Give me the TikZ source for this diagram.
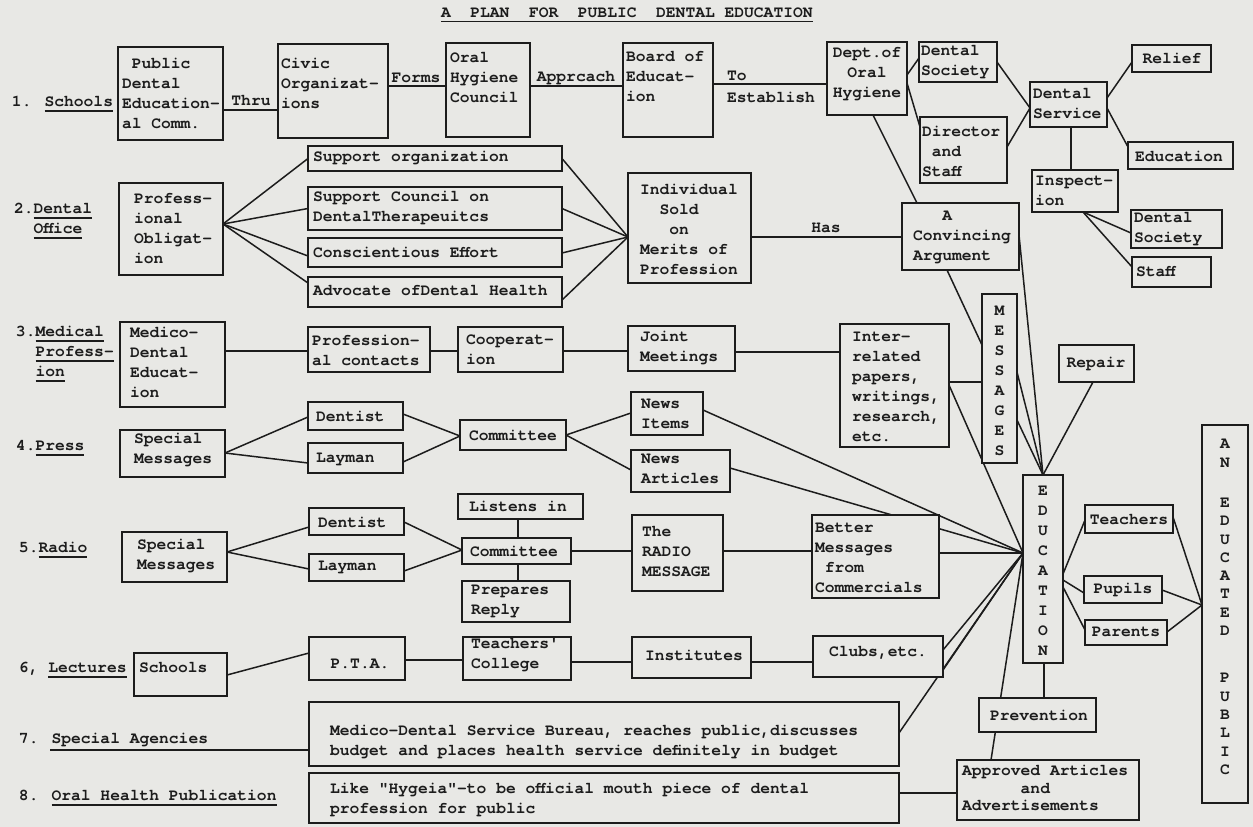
\documentclass[tikz,border=0pt]{standalone}
\usepackage{fontspec}
\setmainfont{TeX Gyre Cursor}[Ligatures=TeXOff]
\definecolor{paper}{RGB}{232,232,229}
\definecolor{ink}{RGB}{28,28,28}
\pgfdeclarelayer{background}
\pgfsetlayers{background,main}
\newcommand\myul[1]{\leavevmode\setbox0\hbox{#1}\rlap{\raisebox{-5pt}{\rule{\wd0}{1.4pt}}}\box0}
\newcommand\mybox[5]{\node[bx, minimum width={(#4-#2)*1pt}, minimum height={(#5-#3)*1pt}] (#1) at ({(#2+#4)/2},{(#3+#5)/2}) {};}
\newcommand\mytext[4]{\node[tx, anchor=west] (#1) at (#2,#3) {#4};}
\newcommand\mytextc[4]{\node[tx, align=center] (#1) at (#2,#3) {#4};}
\tikzset{
  bx/.style={draw=ink, line width=1.8pt, fill=paper, inner sep=0pt, outer sep=0pt, rectangle},
  tx/.style={inner sep=0pt, outer sep=0pt, text=ink, align=left, font=\fontsize{16.3}{20}\selectfont\bfseries},
  ln/.style={draw=ink, line width=1.5pt}
}
\begin{document}
\begin{tikzpicture}[x=1pt,y=-1pt]
\useasboundingbox (0,0) rectangle (1253,827);
% title
\node[tx, anchor=west] (title) at (441,15) {\myul{A\ \ PLAN\ \ FOR\ \ PUBLIC\ \ DENTAL EDUCATION}};
% row labels
\mytext{r1}{12}{104}{1. \myul{Schools}}
\mytext{r2}{14}{221}{2.\myul{Dental}\\\phantom{2.}\myul{Office}}
\mytext{r3}{16}{354}{3.\myul{Medical}\\\phantom{3.}\myul{Profess-}\\\phantom{3.}\myul{ion}}
\mytext{r4}{16}{448}{4.\myul{Press}}
\mytext{r5}{19}{550}{5.\myul{Radio}}
\mytext{r6}{19}{670}{6, \myul{Lectures}}
\mytext{r7}{19}{740}{7. Special Agencies}
\mytext{r8}{19}{798}{8. \myul{Oral Health Publication}}
% row 1
\mybox{pdec}{118}{47}{223}{140}
\mytext{pdecT}{122}{93}{\phantom{P}Public\\Dental\\Education-\\al Comm.}
\mybox{civic}{278}{44}{388}{138}
\mytext{civicT}{281}{83}{Civic\\Organizat-\\ions}
\mybox{ohc}{446}{43}{530}{137}
\mytext{ohcT}{450}{78}{Oral\\Hygiene\\Council}
\mybox{boe}{623}{43}{713}{137}
\mytext{boeT}{626}{77}{Board of\\Educat-\\ion}
\mybox{dept}{827}{42}{907}{115}
\mytextc{deptT}{867}{74}{Dept.of\\Oral\\Hygiene}
\mybox{dsa}{919}{42}{997}{82}
\mytext{dsaT}{921}{62}{Dental\\Society}
\mybox{dir}{920}{117}{1007}{183}
\mytext{dirT}{922}{151}{Director\\\phantom{x}and\\Staff}
\mybox{dsv}{1030}{82}{1107}{127}
\mytext{dsvT}{1033}{104}{Dental\\Service}
\mybox{relief}{1132}{45}{1211}{72}
\mytextc{reliefT}{1172}{58}{Relief}
\mybox{educ}{1128}{142}{1233}{169}
\mytextc{educT}{1179}{156}{Education}
\mybox{insp}{1032}{170}{1118}{212}
\mytext{inspT}{1035}{191}{Inspect-\\ion}
\mybox{dsb}{1131}{210}{1222}{248}
\mytext{dsbT}{1134}{229}{Dental\\Society}
\mybox{staff}{1132}{257}{1211}{287}
\mytext{staffT}{1136}{272}{Staff}
\mybox{conv}{902}{203}{1019}{270}
\mytext{convT}{913}{237}{\phantom{xxx}A\\Convincing\\Argument}
% row 2
\mybox{pob}{119}{183}{223}{275}
\mytext{pobT}{134}{229}{Profess-\\ional\\Obligat-\\ion}
\mybox{so}{308}{146}{562}{171}
\mytext{soT}{313}{158}{Support organization}
\mybox{sc}{308}{187}{562}{230}
\mytext{scT}{313}{208}{Support Council on\\DentalTherapeuitcs}
\mybox{ce}{308}{238}{562}{267}
\mytext{ceT}{313}{252}{Conscientious Effort}
\mybox{adv}{308}{277}{562}{307}
\mytext{advT}{313}{291}{Advocate ofDental Health}
\mybox{ind}{628}{173}{751}{283}
\mytext{indT}{640}{229}{Individual\\\phantom{xx}Sold\\\phantom{xxx}on\\Merits of\\Profession}
% row 3
\mybox{mde}{120}{322}{225}{407}
\mytext{mdeT}{130}{362}{Medico-\\Dental\\Educat-\\ion}
\mybox{pc}{308}{327}{430}{372}
\mytext{pcT}{312}{350}{Profession-\\al contacts}
\mybox{coop}{458}{327}{563}{372}
\mytext{coopT}{466}{350}{Cooperat-\\ion}
\mybox{jm}{628}{326}{735}{371}
\mytext{jmT}{640}{348}{Joint\\Meetings}
\mybox{irp}{840}{324}{949}{447}
\mytext{irpT}{852}{387}{Inter-\\related\\papers,\\writings,\\research,\\etc.}
\mybox{msg}{982}{294}{1017}{463}
\mytextc{msgT}{999.5}{381}{M\\E\\S\\S\\A\\G\\E\\S}
\mybox{repair}{1059}{345}{1134}{382}
\mytextc{repairT}{1096}{364}{Repair}
\mybox{edu}{1023}{475}{1063}{663}
\mytextc{eduT}{1043}{571}{E\\D\\U\\C\\A\\T\\I\\O\\N}
% row 4
\mybox{spa}{120}{430}{225}{477}
\mytext{spaT}{134}{450}{Special\\Messages}
\mybox{da}{308}{402}{403}{430}
\mytext{daT}{316}{416}{Dentist}
\mybox{la}{308}{443}{403}{473}
\mytext{laT}{316}{459}{Layman}
\mybox{coma}{460}{420}{566}{450}
\mytext{comaT}{469}{435}{Committee}
\mybox{ni}{631}{392}{703}{435}
\mytext{niT}{641}{414}{News\\Items}
\mybox{na}{631}{450}{730}{492}
\mytext{naT}{641}{469}{News\\Articles}
% row 5
\mybox{spb}{122}{532}{227}{582}
\mytext{spbT}{137}{556}{Special\\Messages}
\mybox{db}{309}{508}{404}{535}
\mytext{dbT}{318}{522}{Dentist}
\mybox{lb}{309}{554}{404}{581}
\mytext{lbT}{318}{567}{Layman}
\mybox{comb}{462}{538}{571}{564}
\mytext{combT}{470}{551}{Committee}
\mybox{li}{458}{494}{583}{519}
\mytext{liT}{469}{506}{Listens in}
\mybox{pr}{462}{581}{570}{622}
\mytext{prT}{471}{601}{Prepares\\Reply}
\mybox{rm}{632}{515}{723}{591}
\mytext{rmT}{642}{552}{The\\RADIO\\MESSAGE}
\mybox{bm}{812}{515}{939}{598}
\mytext{bmT}{815}{558}{Better\\Messages\\\phantom{x}from\\Commercials}
% row 6
\mybox{sch}{134}{653}{227}{696}
\mytext{schT}{139}{668}{Schools}
\mybox{pta}{309}{637}{405}{680}
\mytextc{ptaT}{360}{664}{P.T.A.}
\mybox{tc}{463}{637}{571}{680}
\mytext{tcT}{471}{655}{Teachers'\\College}
\mybox{inst}{632}{637}{751}{678}
\mytextc{instT}{694}{655}{Institutes}
\mybox{clubs}{813}{636}{943}{677}
\mytextc{clubsT}{878}{653}{Clubs,etc.}
% rows 7, 8
\mybox{bur}{309}{702}{899}{766}
\mytext{burT}{330}{742}{Medico-Dental Service Bureau, reaches public,discusses\\budget and places health service definitely in budget}
\mybox{hyg}{309}{773}{899}{823}
\mytext{hygT}{330}{800}{Like "Hygeia"-to be official mouth piece of dental\\profession for public}
\mybox{app}{957}{760}{1139}{820}
\node[tx, anchor=west, font=\fontsize{16.3}{17.5}\selectfont\bfseries] (appT) at (962,788) {Approved Articles\\\phantom{xxxxxx}and\\Advertisements};
\mybox{prev}{979}{698}{1096}{732}
\mytextc{prevT}{1039}{715}{Prevention}
% right column
\mybox{tea}{1085}{505}{1173}{533}
\mytextc{teaT}{1129}{520}{Teachers}
\mybox{pup}{1084}{576}{1162}{603}
\mytextc{pupT}{1123}{590}{Pupils}
\mybox{par}{1085}{620}{1167}{645}
\mytextc{parT}{1126}{632}{Parents}
\mybox{aep}{1202}{425}{1248}{803}
\node[tx, align=center, font=\fontsize{16.3}{18.3}\selectfont\bfseries] (aepT) at (1225,607) {A\\N\\[22pt]E\\D\\U\\C\\A\\T\\E\\D\\[29pt]P\\U\\B\\L\\I\\C};
% connector labels
\node[tx] (lThru) at (251,101) {Thru};
\node[tx] (lForms) at (416,78) {Forms};
\node[tx] (lAppr) at (576,78) {Apprcach};
\node[tx, anchor=west] (lTo) at (727,76) {To};
\node[tx, anchor=west] (lEst) at (727,97) {Establish};
\node[tx] (lHas) at (826,228) {Has};
\coordinate (ec) at (1023,553);
\coordinate (ac) at (1202,605);
\coordinate (saU) at (50,750);
\begin{pgfonlayer}{background}
\fill[paper] (0,0) rectangle (1253,827);
% row 1
\draw[ln] (pdec.east |- 0,110) -- (civic.west |- 0,110);
\draw[ln] (civic.east |- 0,86) -- (ohc.west |- 0,86);
\draw[ln] (ohc.east |- 0,86) -- (boe.west |- 0,86);
\draw[ln] (boe.east |- 0,84) -- (dept.west |- 0,84);
\draw[ln] (dept.east |- 0,75) -- (dsa.west |- 0,58);
\draw[ln] (dept.east |- 0,83) -- (dir.west |- 0,127);
\draw[ln] (dsa.east |- 0,62) -- (dsv.west |- 0,108);
\draw[ln] (dir.east |- 0,147) -- (dsv.west |- 0,108);
\draw[ln] (dsv.east |- 0,98) -- (relief.west |- 0,62);
\draw[ln] (dsv.east |- 0,108) -- (educ.west |- 0,147);
\draw[ln] (1071,0 |- dsv.south) -- (1071,0 |- insp.north);
\draw[ln] (1083,0 |- insp.south) -- (dsb.west |- 0,233);
\draw[ln] (1083,0 |- insp.south) -- (staff.west |- 0,267);
\draw[ln] (873,0 |- dept.south) -- (917,0 |- conv.north);
% row 2
\draw[ln] (pob.east |- 0,224) -- (so.west);
\draw[ln] (pob.east |- 0,224) -- (sc.west);
\draw[ln] (pob.east |- 0,224) -- (ce.west |- 0,256);
\draw[ln] (pob.east |- 0,224) -- (adv.west |- 0,283);
\draw[ln] (so.east) -- (ind.west |- 0,237);
\draw[ln] (sc.east) -- (ind.west |- 0,237);
\draw[ln] (ce.east |- 0,253) -- (ind.west |- 0,237);
\draw[ln] (adv.east |- 0,300) -- (ind.west |- 0,237);
\draw[ln] (ind.east |- 0,237) -- (conv.west |- 0,237);
% row 3
\draw[ln] (mde.east |- 0,351) -- (pc.west |- 0,351);
\draw[ln] (pc.east |- 0,351) -- (coop.west |- 0,351);
\draw[ln] (coop.east |- 0,351) -- (jm.west |- 0,351);
\draw[ln] (jm.east |- 0,352) -- (irp.west |- 0,352);
\draw[ln] (irp.east |- 0,382) -- (msg.west |- 0,382);
\draw[ln] (947,0 |- conv.south) -- (msg.west |- 0,345);
\draw[ln] (conv.east |- 0,235) -- (edu.north);
\draw[ln] (msg.east |- 0,372) -- (edu.north);
\draw[ln] (msg.east |- 0,420) -- (edu.north);
\draw[ln] (1093,0 |- repair.south) -- (edu.north);
\draw[ln] (irp.east |- 0,385) -- (ec);
% row 4
\draw[ln] (spa.east |- 0,453) -- (da.west |- 0,417);
\draw[ln] (spa.east |- 0,453) -- (la.west |- 0,463);
\draw[ln] (da.east |- 0,414) -- (coma.west |- 0,436);
\draw[ln] (la.east |- 0,462) -- (coma.west |- 0,436);
\draw[ln] (coma.east |- 0,435) -- (ni.west |- 0,413);
\draw[ln] (coma.east |- 0,435) -- (na.west |- 0,470);
\draw[ln] (ni.east |- 0,410) -- (ec);
\draw[ln] (na.east |- 0,468) -- (ec);
% row 5
\draw[ln] (spb.east |- 0,552) -- (db.west |- 0,527);
\draw[ln] (spb.east |- 0,552) -- (lb.west |- 0,569);
\draw[ln] (db.east |- 0,522) -- (comb.west |- 0,550);
\draw[ln] (lb.east |- 0,571) -- (comb.west |- 0,550);
\draw[ln] (518,0 |- li.south) -- (518,0 |- comb.north);
\draw[ln] (518,0 |- comb.south) -- (518,0 |- pr.north);
\draw[ln] (comb.east |- 0,551) -- (rm.west |- 0,551);
\draw[ln] (rm.east |- 0,551) -- (bm.west |- 0,551);
\draw[ln] (bm.east |- 0,553) -- (ec);
% row 6
\draw[ln] (sch.east |- 0,675) -- (pta.west |- 0,653);
\draw[ln] (pta.east |- 0,660) -- (tc.west |- 0,660);
\draw[ln] (tc.east |- 0,662) -- (inst.west |- 0,662);
\draw[ln] (inst.east |- 0,662) -- (clubs.west |- 0,662);
\draw[ln] (clubs.east |- 0,650) -- (ec);
\draw[ln] (clubs.east |- 0,670) -- (ec);
% rows 7, 8
\draw[ln] (saU) -- (saU -| bur.west);
\draw[ln] (bur.east |- 0,733) -- (ec);
\draw[ln] (hyg.east |- 0,793) -- (app.west |- 0,793);
\draw[ln] (991,0 |- app.north) -- (ec);
\draw[ln] (1044,0 |- edu.south) -- (1044,0 |- prev.north);
% right side
\draw[ln] (edu.east |- 0,574) -- (tea.west |- 0,520);
\draw[ln] (edu.east |- 0,580) -- (pup.west |- 0,593);
\draw[ln] (edu.east |- 0,587) -- (par.west |- 0,630);
\draw[ln] (tea.east |- 0,517) -- (ac);
\draw[ln] (pup.east |- 0,590) -- (ac);
\draw[ln] (par.east |- 0,632) -- (ac);
\end{pgfonlayer}
\end{tikzpicture}
\end{document}
